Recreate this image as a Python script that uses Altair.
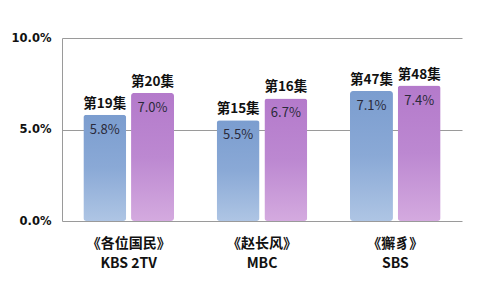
import altair as alt
import pandas as pd

shows = ["《各位国民》\nKBS 2TV", "《赵长风》\nMBC", "《獬豸》\nSBS"]
series = ["a", "b"]
episodes_a = ["第19集", "第15集", "第47集"]
episodes_b = ["第20集", "第16集", "第48集"]
values_a = [5.8, 5.5, 7.1]
values_b = [7.0, 6.7, 7.4]

rows = []
for i, s in enumerate(shows):
    rows.append({"show": s, "series": "a", "ep": episodes_a[i], "val": values_a[i]})
    rows.append({"show": s, "series": "b", "ep": episodes_b[i], "val": values_b[i]})
df = pd.DataFrame(rows)

FONT = "Noto Sans CJK SC"

x_enc = alt.X("show:N", sort=shows, title=None,
              scale=alt.Scale(paddingInner=0.32, paddingOuter=0.16),
              axis=alt.Axis(labelExpr="split(datum.label, '\\n')", labelAngle=0,
                            labelFont=FONT, labelFontWeight="bold", labelFontSize=14,
                            labelColor="#111", labelPadding=15, labelLineHeight=20,
                            ticks=False, domain=False))
y_enc = alt.Y("val:Q", title=None,
              scale=alt.Scale(domain=[0, 10], nice=False),
              axis=alt.Axis(values=[0, 5, 10], labelExpr="format(datum.value, '.1f') + '%'",
                            labelFont="DejaVu Sans", labelFontWeight="bold", labelFontSize=11.5,
                            labelColor="#111", labelPadding=11, ticks=False,
                            gridColor="#9a9a9a", gridWidth=1, domainColor="#9a9a9a"))
xo = alt.XOffset("series:N", scale=alt.Scale(domain=series, paddingInner=0.1, paddingOuter=0))

grad_a = alt.Gradient(gradient="linear", x1=0, x2=0, y1=0, y2=1,
                      stops=[alt.GradientStop(color="#7b9dcf", offset=0),
                             alt.GradientStop(color="#8aa9d6", offset=0.5),
                             alt.GradientStop(color="#aec5e4", offset=1)])
grad_b = alt.Gradient(gradient="linear", x1=0, x2=0, y1=0, y2=1,
                      stops=[alt.GradientStop(color="#b47acb", offset=0),
                             alt.GradientStop(color="#bc88d1", offset=0.5),
                             alt.GradientStop(color="#d4aadf", offset=1)])

base = alt.Chart(df).encode(x=x_enc, y=y_enc, xOffset=xo)

bars_a = base.transform_filter("datum.series == 'a'").mark_bar(color=grad_a, cornerRadius=3)
bars_b = base.transform_filter("datum.series == 'b'").mark_bar(color=grad_b, cornerRadius=3)

ep_text = base.mark_text(dy=-11, font=FONT, fontWeight="bold", fontSize=13.5,
                         color="#111").encode(text="ep:N")
val_text = base.transform_calculate(lab="format(datum.val, '.1f') + '%'").mark_text(
    dy=15, font=FONT, fontSize=13, color="#2a2a3a").encode(text="lab:N")

chart = alt.layer(bars_a, bars_b, ep_text, val_text).properties(
    width=400, height=183,
    autosize=alt.AutoSizeParams(type="none"),
    padding={"left": 62, "top": 38, "right": 18, "bottom": 73},
    background="white",
).configure_view(stroke=None)

chart.save("out.html", embed_options={"renderer": "svg", "actions": False})
